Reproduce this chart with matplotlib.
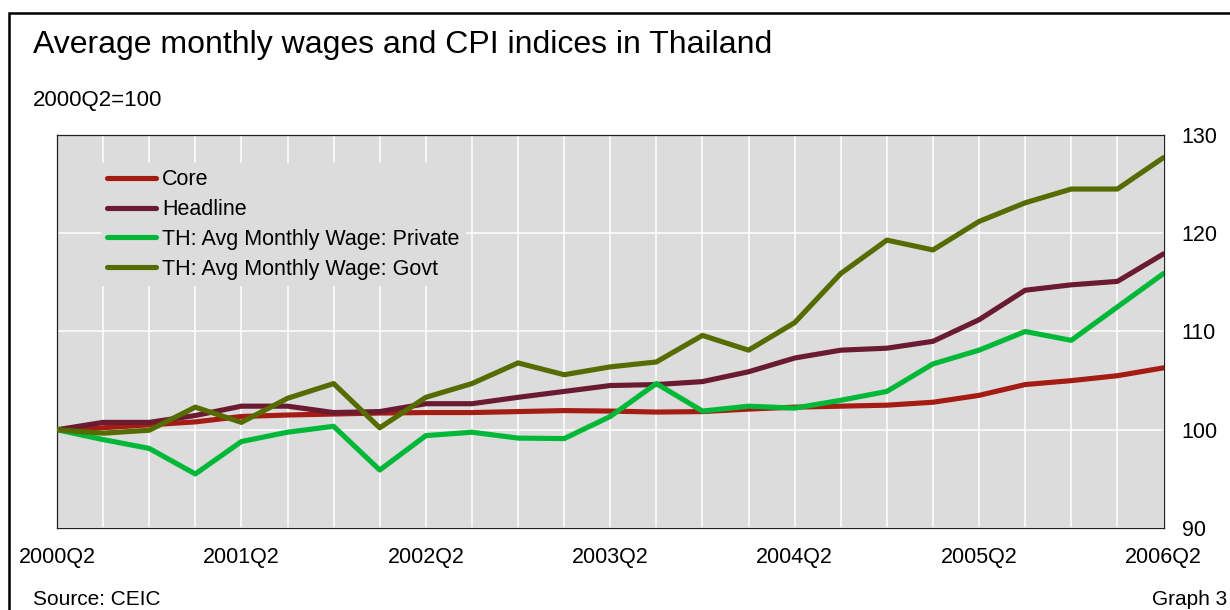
import matplotlib
matplotlib.use("Agg")
import matplotlib.pyplot as plt
from matplotlib.patches import Rectangle
from matplotlib.ticker import FixedLocator, MultipleLocator

plt.rcParams['font.family'] = ['Liberation Sans', 'DejaVu Sans']

# Quarterly index values, 2000Q2 = 100
quarters = [f"{y}Q{q}" for y in range(2000, 2007) for q in (1, 2, 3, 4)][1:26]
tick_labels = ["2000Q2", "2001Q2", "2002Q2", "2003Q2", "2004Q2", "2005Q2", "2006Q2"]

core = [100.0, 100.2, 100.5, 100.8, 101.35, 101.5, 101.6, 101.7, 101.75, 101.75,
        101.85, 101.95, 101.9, 101.8, 101.85, 102.1, 102.3, 102.4, 102.5, 102.8,
        103.5, 104.6, 105.0, 105.5, 106.3]
headline = [100.0, 100.75, 100.75, 101.45, 102.4, 102.4, 101.75, 101.85, 102.65, 102.65,
            103.3, 103.9, 104.5, 104.6, 104.9, 105.9, 107.3, 108.1, 108.3, 109.0,
            111.2, 114.2, 114.75, 115.1, 117.9]
wage_private = [100.0, 99.0, 98.1, 95.5, 98.8, 99.75, 100.35, 95.9, 99.4, 99.75,
                99.15, 99.1, 101.35, 104.7, 101.9, 102.4, 102.2, 103.0, 103.9, 106.7,
                108.1, 110.0, 109.1, 112.5, 115.9]
wage_govt = [100.0, 99.65, 99.95, 102.3, 100.75, 103.2, 104.7, 100.2, 103.3, 104.7,
             106.8, 105.6, 106.4, 106.9, 109.6, 108.1, 110.9, 115.9, 119.3, 118.3,
             121.2, 123.1, 124.5, 124.5, 127.7]

series = [
    ("Core", core, "#A51C14"),
    ("Headline", headline, "#6A1A31"),
    ("TH: Avg Monthly Wage: Private", wage_private, "#00B837"),
    ("TH: Avg Monthly Wage: Govt", wage_govt, "#566B00"),
]

W, H = 1230, 610
fig = plt.figure(figsize=(W / 100, H / 100), dpi=100)
ax = fig.add_axes([57 / W, 1 - 528 / H, (1163.5 - 57) / W, (528 - 135) / H])
ax.set_facecolor("#DCDCDC")

x = list(range(len(quarters)))
for name, vals, col in series:
    ax.plot(x, vals, color=col, lw=3.7, label=name,
            solid_capstyle="round", solid_joinstyle="round", zorder=3)

ax.set_xlim(0, len(quarters) - 1)
ax.set_ylim(90, 130)

# quarterly vertical grid, yearly labels
ax.xaxis.set_major_locator(FixedLocator([quarters.index(t) for t in tick_labels]))
ax.set_xticklabels(tick_labels)
ax.xaxis.set_minor_locator(MultipleLocator(1))
ax.yaxis.set_major_locator(MultipleLocator(10))
ax.yaxis.tick_right()
ax.tick_params(axis="x", which="both", length=0, pad=14, labelsize=15.5)
ax.tick_params(axis="y", which="both", length=0, pad=13, labelsize=15.5)
ax.grid(True, which="both", axis="x", color="white", lw=1.1, zorder=1)
ax.grid(True, which="major", axis="y", color="white", lw=1.1, zorder=1)
for s in ax.spines.values():
    s.set_color("#222222")
    s.set_linewidth(0.9)

leg = ax.legend(loc="upper left", bbox_to_anchor=(0.0395, 0.929), borderaxespad=0,
                borderpad=0.3, frameon=True, fancybox=False, facecolor="#DCDCDC",
                edgecolor="none", framealpha=1, fontsize=15.5, handlelength=2.25,
                handletextpad=0.3, labelspacing=0.41)
leg.set_zorder(4)

fig.text(32.7 / W, 1 - 53.3 / H, "Average monthly wages and CPI indices in Thailand",
         fontsize=23, va="baseline", ha="left")
fig.text(32.7 / W, 1 - 106 / H, "2000Q2=100", fontsize=16, va="baseline", ha="left")
fig.text(32.7 / W, 1 - 605 / H, "Source: CEIC", fontsize=15, va="baseline", ha="left")
fig.text(1227 / W, 1 - 605 / H, "Graph 3", fontsize=15, va="baseline", ha="right")

# outer frame, open on the right and bottom edges
fig.patches.append(Rectangle((8.5 / W, -0.1), 1.2, 0.1 + (1 - 13.3 / H),
                             transform=fig.transFigure, fill=False,
                             edgecolor="black", lw=1.8, clip_on=False))

fig.savefig("out.png", dpi=100)
